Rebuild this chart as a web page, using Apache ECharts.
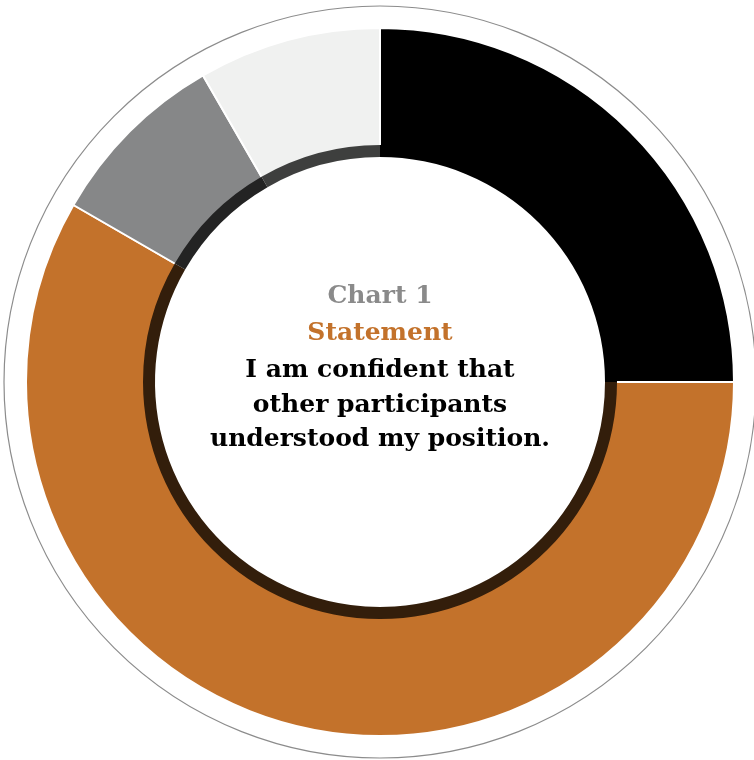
<!DOCTYPE html>
<html><head><meta charset="utf-8">
<script src="https://cdn.jsdelivr.net/npm/echarts@6/dist/echarts.min.js"></script>
<style>html,body{margin:0;padding:0;background:#fff}#c{width:754px;height:760px}</style>
</head><body><div id="c"></div>
<script>
const categories = ['Strongly agree', 'Agree', 'Disagree', 'Strongly disagree'];
const values = [3, 7, 1, 1];
const colors = ['#000000', '#C3722B', '#868788', '#F0F1F0'];
const titleLines = ['Chart 1', 'Statement', 'I am confident that', 'other participants', 'understood my position.'];

function darken(hex, k) {
  const n = parseInt(hex.slice(1), 16);
  const r = Math.round(((n >> 16) & 255) * k), g = Math.round(((n >> 8) & 255) * k), b = Math.round((n & 255) * k);
  return 'rgb(' + r + ',' + g + ',' + b + ')';
}
const chart = echarts.init(document.getElementById('c'));
const data = categories.map((c, i) => ({ name: c, value: values[i], itemStyle: { color: colors[i] } }));
const ringData = categories.map((c, i) => ({ name: c, value: values[i], itemStyle: { color: darken(colors[i], 0.26) } }));
const font = "'DejaVu Serif', serif";
const lineY = [296, 333, 370, 405, 439];
const lineColors = ['#8a8a8a', '#C3722B', '#000', '#000', '#000'];
const textEls = titleLines.map((t, i) => ({
  type: 'text', x: 380, y: lineY[i], z: 10,
  style: { text: t, font: "bold 25px " + font, fill: lineColors[i], textAlign: 'center', textVerticalAlign: 'middle' }
}));
chart.setOption({
  animation: false,
  graphic: [
    { type: 'circle', shape: { cx: 380, cy: 382, r: 376 }, style: { fill: 'none', stroke: '#8c8c8c', lineWidth: 1.2 }, z: 0 }
  ].concat(textEls),
  series: [
    {
      type: 'pie', center: [380, 382], radius: [232, 354], startAngle: 90,
      label: { show: false }, labelLine: { show: false }, silent: true,
      itemStyle: { borderColor: '#fff', borderWidth: 2 },
      data: data, z: 1
    },
    {
      type: 'pie', center: [380, 382], radius: [225, 237], startAngle: 90,
      label: { show: false }, labelLine: { show: false }, silent: true,
      itemStyle: { borderWidth: 0 },
      data: ringData, z: 2
    }
  ]
});
</script></body></html>
